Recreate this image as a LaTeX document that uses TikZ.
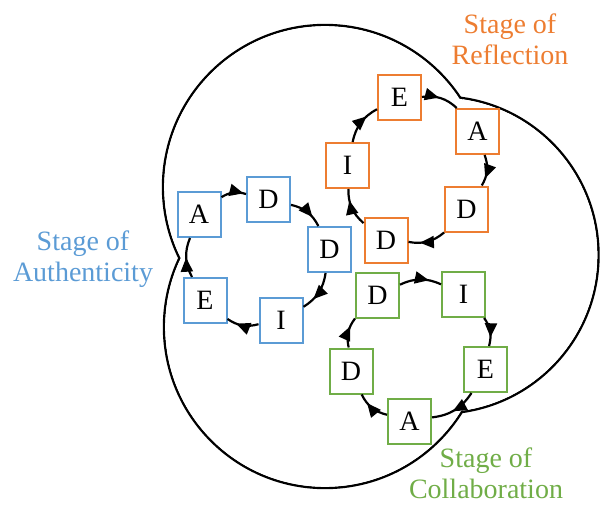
\documentclass[tikz,border=0pt]{standalone}
\usepackage{fontspec}
\setmainfont{Liberation Serif}
\usetikzlibrary{arrows.meta,decorations.markings}
\definecolor{cblue}{RGB}{91,155,213}
\definecolor{corange}{RGB}{237,125,49}
\definecolor{cgreen}{RGB}{112,173,71}
\tikzset{
  outline/.style={line width=2.4pt, draw=black},
  letterbox/.style={draw, fill=white, line width=2pt, minimum width=43pt, minimum height=45pt, inner sep=0pt, font=\fontsize{28}{31}\selectfont, text=black},
  bluebox/.style={letterbox, draw=cblue},
  orangebox/.style={letterbox, draw=corange},
  greenbox/.style={letterbox, draw=cgreen},
  cyclearrow/.style={line width=2.2pt, draw=black, postaction={decorate},
    decoration={markings, mark=at position #1 with {\arrow{Triangle[length=14pt,width=12pt]}}}},
  cyclearrow/.default=0.7,
  stagelabel/.style={align=center, inner sep=0pt, anchor=north, font=\fontsize{28}{31}\selectfont}
}
\begin{document}
\begin{tikzpicture}[x=1pt,y=-1pt]
\useasboundingbox (0,0) rectangle (600,506);
% outer outline (union of three circles)
\draw[outline] (325,187) circle[radius=162pt];
\draw[outline] (325,327) circle[radius=161pt];
\draw[outline] (440,255) circle[radius=158.5pt];
\fill[white] (325,187) circle[radius=160.8pt];
\fill[white] (325,327) circle[radius=159.8pt];
\fill[white] (440,255) circle[radius=157.3pt];
% blue cycle
\node[bluebox] (bA)  at (199,214.5) {A};
\node[bluebox] (bD1) at (268.5,199) {D};
\node[bluebox] (bD2) at (329.5,249.5) {D};
\node[bluebox] (bI)  at (281,320) {I};
\node[bluebox] (bE)  at (205,300.5) {E};
% orange cycle
\node[orangebox] (oE)  at (399.5,97.5) {E};
\node[orangebox] (oA)  at (477.5,131.5) {A};
\node[orangebox] (oD1) at (466.5,209) {D};
\node[orangebox] (oD2) at (386,240.5) {D};
\node[orangebox] (oI)  at (347.5,165.5) {I};
% green cycle
\node[greenbox] (gD1) at (377.5,295.5) {D};
\node[greenbox] (gI)  at (463.5,294.5) {I};
\node[greenbox] (gE)  at (485.5,369.5) {E};
\node[greenbox] (gA)  at (409.5,421) {A};
\node[greenbox] (gD2) at (351,371) {D};
% arrows
\draw[cyclearrow=0.9] (bA) to[bend left=25] (bD1);
\draw[cyclearrow] (bD1) to[bend left=25] (bD2);
\draw[cyclearrow] (bD2) to[bend left=25] (bI);
\draw[cyclearrow] (bI) to[bend left=25] (bE);
\draw[cyclearrow=0.5] (bE) to[bend left=25] (bA);
\draw[cyclearrow=0.45] (oE) to[bend left=25] (oA);
\draw[cyclearrow=0.75] (oA) to[bend left=25] (oD1);
\draw[cyclearrow] (oD1) to[bend left=25] (oD2);
\draw[cyclearrow] (oD2) to[bend left=25] (oI);
\draw[cyclearrow] (oI) to[bend left=25] (oE);
\draw[cyclearrow] (gD1) to[bend left=25] (gI);
\draw[cyclearrow] (gI) to[bend left=25] (gE);
\draw[cyclearrow=0.55] (gE) to[bend left=25] (gA);
\draw[cyclearrow] (gA) to[bend left=25] (gD2);
\draw[cyclearrow] (gD2) to[bend left=25] (gD1);
% stage labels
\node[stagelabel, text=corange] (lr) at (510,14) {Stage of\\Reflection};
\node[stagelabel, text=cblue] (la) at (83,231) {Stage of\\Authenticity};
\node[stagelabel, text=cgreen] (lc) at (486,448) {Stage of\\Collaboration};
\end{tikzpicture}
\end{document}
